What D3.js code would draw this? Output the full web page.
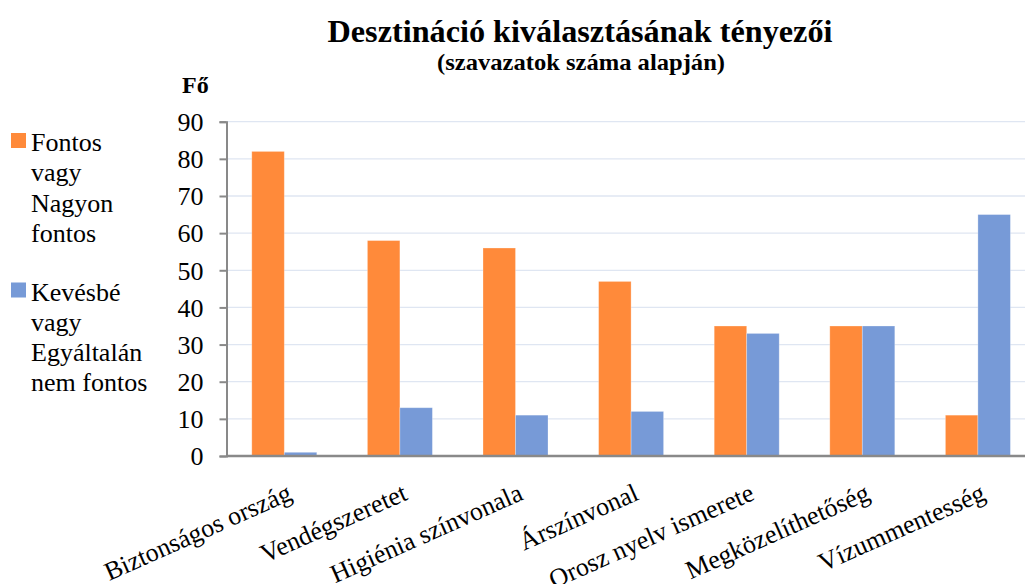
<!DOCTYPE html>
<html>
<head>
<meta charset="utf-8">
<script src="https://cdn.jsdelivr.net/npm/d3@7"></script>
<style>
  body { margin: 0; background: #fff; }
  svg text { font-family: "Liberation Serif", "Times New Roman", serif; fill: #000; }
</style>
</head>
<body>
<div id="chart"></div>
<script>
var width = 1025;
var height = 584;
var margin = { top: 121.7, right: -10.7, bottom: 128, left: 226.5 };

var categories = ["Biztonságos ország", "Vendégszeretet", "Higiénia színvonala", "Árszínvonal",
    "Orosz nyelv ismerete", "Megközelíthetőség", "Vízummentesség"];
var important = [82, 58, 56, 47, 35, 35, 11];
var notImportant = [1, 13, 11, 12, 33, 35, 65];
var yTicks = [0, 10, 20, 30, 40, 50, 60, 70, 80, 90];

var keys = ["important", "notImportant"];
var colors = { important: "#ff8a3a", notImportant: "#779ad7" };
var legendLines = {
    important: ["Fontos", "vagy", "Nagyon", "fontos"],
    notImportant: ["Kevésbé", "vagy", "Egyáltalán", "nem fontos"]
};

var dataset = categories.map(function(c, i) {
    return { cat: c, important: important[i], notImportant: notImportant[i] };
});

var svg = d3.select("#chart")
    .append("svg")
    .attr("width", width)
    .attr("height", height)
    .attr("font-family", "Liberation Serif, serif");

var xScale = d3.scaleBand()
    .domain(categories)
    .range([margin.left, width - margin.right])
    .paddingInner(0.4377)
    .paddingOuter(0.2188);

var xInner = d3.scaleBand()
    .domain(keys)
    .range([0, xScale.bandwidth()]);

var yScale = d3.scaleLinear()
    .domain([0, 90])
    .range([height - margin.bottom, margin.top]);

// gridlines
svg.append("g")
    .selectAll("line")
    .data(yTicks.slice(1))
    .enter()
    .append("line")
    .attr("x1", margin.left)
    .attr("x2", width)
    .attr("y1", function(d) { return yScale(d); })
    .attr("y2", function(d) { return yScale(d); })
    .attr("stroke", "#dfe6f2")
    .attr("stroke-width", 1.3);

// bars
var groups = svg.append("g")
    .selectAll("g")
    .data(dataset)
    .enter()
    .append("g")
    .attr("transform", function(d) { return "translate(" + xScale(d.cat) + ",0)"; });

groups.selectAll("rect")
    .data(function(d) { return keys.map(function(k) { return { key: k, value: d[k] }; }); })
    .enter()
    .append("rect")
    .attr("x", function(d) { return xInner(d.key); })
    .attr("y", function(d) { return yScale(d.value); })
    .attr("width", xInner.bandwidth())
    .attr("height", function(d) { return yScale(0) - yScale(d.value); })
    .attr("fill", function(d) { return colors[d.key]; })
    .attr("stroke", "#fff")
    .attr("stroke-opacity", 0.35)
    .attr("stroke-width", 0.8);

// y axis
var yAxis = svg.append("g")
    .attr("transform", "translate(" + margin.left + ",0)")
    .call(d3.axisLeft(yScale).tickValues(yTicks).tickSize(7).tickPadding(16));
yAxis.attr("font-family", null).attr("font-size", null);
yAxis.select(".domain").attr("stroke", "#898989").attr("stroke-width", 2);
yAxis.selectAll(".tick line").attr("stroke", "#898989").attr("stroke-width", 2);
yAxis.selectAll(".tick text")
    .style("font-size", "26px")
    .attr("dy", "0.34em")
    .attr("fill", "#000");

// x axis baseline
svg.append("line")
    .attr("x1", margin.left)
    .attr("x2", width)
    .attr("y1", yScale(0))
    .attr("y2", yScale(0))
    .attr("stroke", "#898989")
    .attr("stroke-width", 2.5);

// category labels
svg.append("g")
    .selectAll("text")
    .data(categories)
    .enter()
    .append("text")
    .attr("transform", function(d) {
        return "translate(" + (xScale(d) + xScale.bandwidth() / 2 + 9) + "," + (yScale(0) + 43) + ") rotate(-24)";
    })
    .attr("text-anchor", "end")
    .style("font-size", "26px")
    .text(function(d) { return d; });

// titles
svg.append("text")
    .attr("x", 580)
    .attr("y", 42)
    .attr("text-anchor", "middle")
    .style("font-size", "31px")
    .style("font-weight", "bold")
    .attr("textLength", 505)
    .attr("lengthAdjust", "spacingAndGlyphs")
    .text("Desztináció kiválasztásának tényezői");

svg.append("text")
    .attr("x", 581)
    .attr("y", 70)
    .attr("text-anchor", "middle")
    .style("font-size", "24px")
    .style("font-weight", "bold")
    .attr("textLength", 288)
    .attr("lengthAdjust", "spacingAndGlyphs")
    .text("(szavazatok száma alapján)");

svg.append("text")
    .attr("x", 182)
    .attr("y", 93)
    .style("font-size", "24px")
    .style("font-weight", "bold")
    .text("Fő");

// legend
var legend = svg.append("g")
    .selectAll("g")
    .data(keys)
    .enter()
    .append("g")
    .attr("transform", function(d, i) { return "translate(11," + (133 + i * 149.5) + ")"; });

legend.append("rect")
    .attr("width", 15)
    .attr("height", 15)
    .attr("fill", function(d) { return colors[d]; });

legend.append("text")
    .attr("x", 20)
    .attr("y", 18)
    .style("font-size", "26px")
    .selectAll("tspan")
    .data(function(d) { return legendLines[d]; })
    .enter()
    .append("tspan")
    .attr("x", 20)
    .attr("dy", function(d, i) { return i === 0 ? 0 : 30.3; })
    .text(function(d) { return d; });
</script>
</body>
</html>
